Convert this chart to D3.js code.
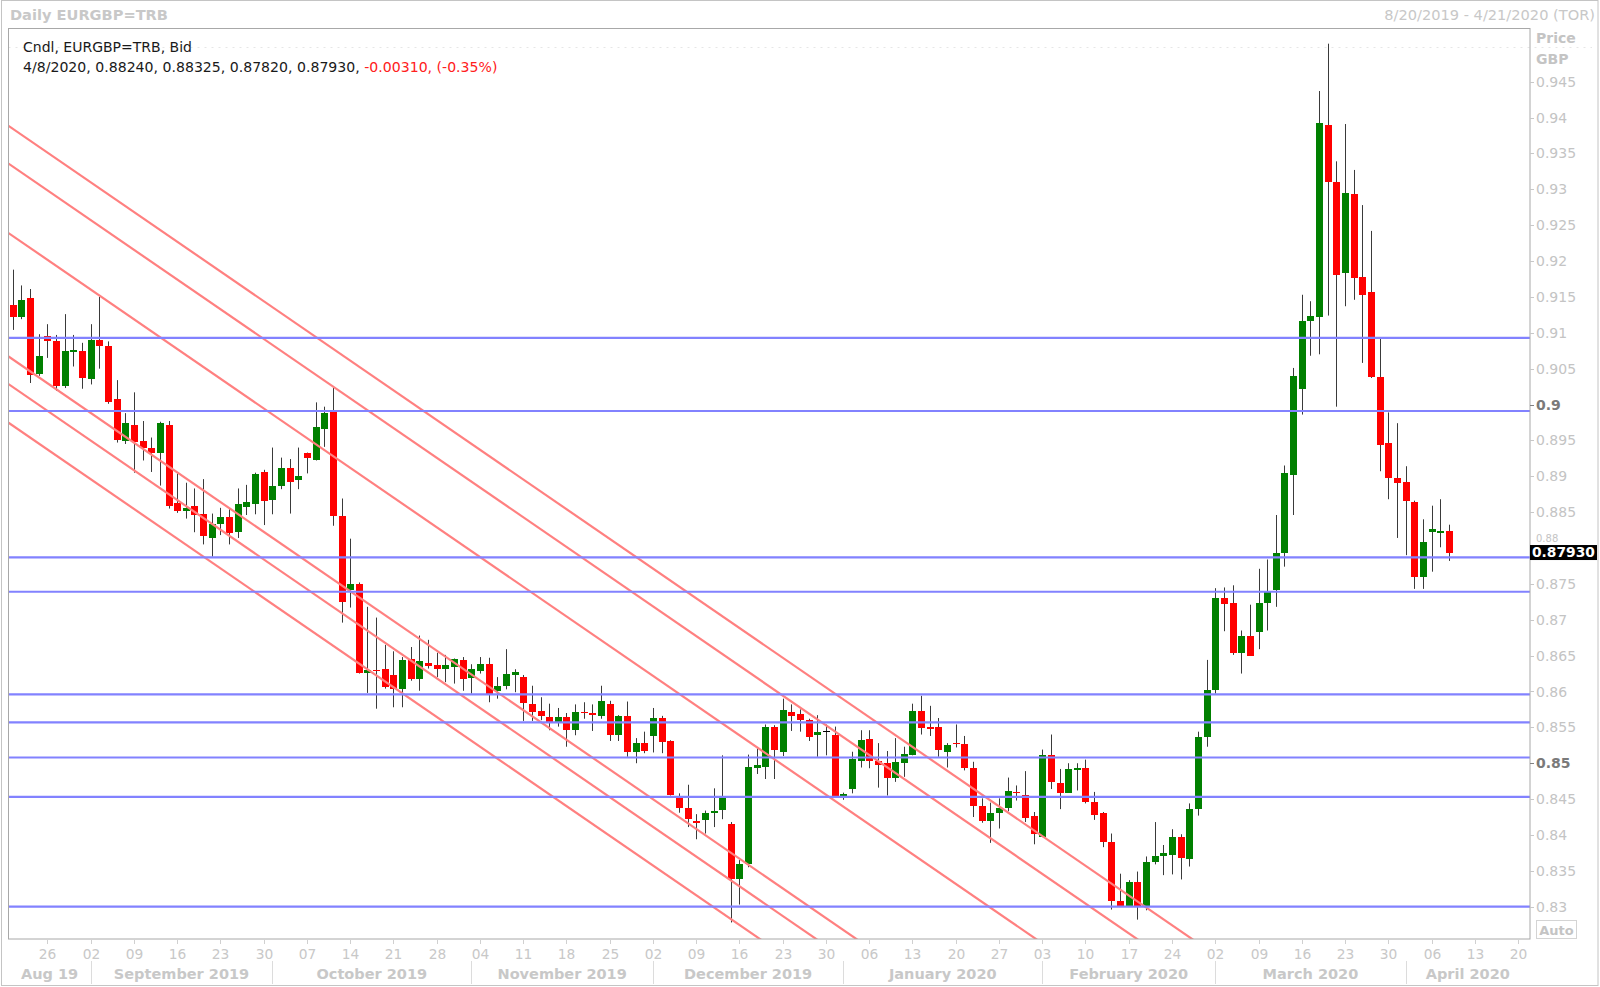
<!DOCTYPE html>
<html><head><meta charset="utf-8">
<script src="https://cdn.jsdelivr.net/npm/d3@7"></script>
<style>
body{margin:0;background:#fff;}
svg{display:block;font-family:"DejaVu Sans",Verdana,sans-serif;}
</style>
</head><body>
<svg id="c" width="1600" height="987"></svg>
<script>
// ---------------- DATA ----------------
const startDate = "2019-08-20";
const endDate = "2020-04-21";
const seriesTitle = "Cndl, EURGBP=TRB, Bid";
const lastInfo = "4/8/2020, 0.88240, 0.88325, 0.87820, 0.87930, ";
const lastChange = "-0.00310, (-0.35%)";
const lastPriceLabel = "0.87930";

const opens = [
0.9139,0.9122,0.9148,0.9042,0.9096,0.9088,0.9026,0.9073,0.9075,0.9035,
0.9090,0.9081,0.9008,0.8949,0.8971,0.8949,0.8940,0.8933,0.8971,0.8863,
0.8852,0.8858,0.8847,0.8814,0.8834,0.8843,0.8822,0.8857,0.8862,0.8906,
0.8867,0.8887,0.8912,0.8895,0.8932,0.8923,0.8966,0.8989,0.8845,0.8741,
0.8750,0.8626,0.8630,0.8631,0.8623,0.8604,0.8645,0.8617,0.8640,0.8637,
0.8632,0.8634,0.8644,0.8619,0.8628,0.8639,0.8600,0.8607,0.8623,0.8620,
0.8583,0.8573,0.8565,0.8557,0.8565,0.8547,0.8572,0.8570,0.8566,0.8583,
0.8539,0.8566,0.8515,0.8528,0.8538,0.8563,0.8531,0.8451,0.8438,0.8419,
0.8421,0.8431,0.8435,0.8415,0.8339,0.8359,0.8493,0.8495,0.8550,0.8515,
0.8572,0.8569,0.8560,0.8539,0.8545,0.8540,0.8455,0.8464,0.8503,0.8534,
0.8503,0.8500,0.8480,0.8501,0.8512,0.8573,0.8550,0.8550,0.8516,0.8528,
0.8527,0.8493,0.8440,0.8419,0.8431,0.8438,0.8460,0.8456,0.8427,0.8397,
0.8511,0.8473,0.8459,0.8491,0.8494,0.8446,0.8430,0.8390,0.8308,0.8301,
0.8334,0.8301,0.8363,0.8370,0.8372,0.8397,0.8366,0.8436,0.8537,0.8602,
0.8731,0.8724,0.8654,0.8678,0.8683,0.8723,0.8742,0.8793,0.8902,0.9021,
0.9117,0.9122,0.9389,0.9310,0.9184,0.9293,0.9178,0.9157,0.9039,0.8946,
0.8898,0.8892,0.8864,0.8760,0.8823,0.8821,0.8824];

const highs = [
0.9188,0.9166,0.9161,0.9098,0.9112,0.9097,0.9126,0.9097,0.9086,0.9112,
0.9150,0.9088,0.9034,0.8988,0.9017,0.8977,0.8954,0.8976,0.8977,0.8904,
0.8891,0.8883,0.8896,0.8848,0.8856,0.8854,0.8883,0.8888,0.8905,0.8909,
0.8940,0.8926,0.8924,0.8940,0.8933,0.9003,0.8997,0.9023,0.8869,0.8813,
0.8752,0.8718,0.8703,0.8665,0.8656,0.8648,0.8662,0.8678,0.8672,0.8654,
0.8651,0.8646,0.8648,0.8638,0.8648,0.8647,0.8620,0.8659,0.8631,0.8623,
0.8608,0.8592,0.8583,0.8577,0.8570,0.8582,0.8585,0.8582,0.8608,0.8587,
0.8567,0.8586,0.8535,0.8544,0.8577,0.8566,0.8532,0.8458,0.8470,0.8429,
0.8434,0.8465,0.8511,0.8418,0.8365,0.8512,0.8521,0.8554,0.8553,0.8590,
0.8582,0.8575,0.8562,0.8567,0.8554,0.8551,0.8459,0.8516,0.8546,0.8546,
0.8528,0.8517,0.8535,0.8523,0.8583,0.8594,0.8580,0.8563,0.8528,0.8554,
0.8538,0.8502,0.8451,0.8445,0.8451,0.8480,0.8469,0.8489,0.8432,0.8519,
0.8540,0.8492,0.8500,0.8500,0.8505,0.8460,0.8432,0.8402,0.8346,0.8337,
0.8349,0.8370,0.8418,0.8386,0.8408,0.8401,0.8444,0.8544,0.8644,0.8744,
0.8745,0.8748,0.8685,0.8721,0.8771,0.8784,0.8846,0.8915,0.9051,0.9153,
0.9144,0.9437,0.9503,0.9339,0.9391,0.9327,0.9278,0.9242,0.9092,0.8989,
0.8974,0.8914,0.8866,0.8840,0.8859,0.8868,0.88325];

const lows = [
0.9104,0.9119,0.9030,0.9040,0.9065,0.9019,0.9023,0.9053,0.9022,0.9028,
0.9050,0.9001,0.8947,0.8945,0.8905,0.8922,0.8906,0.8887,0.8855,0.8849,
0.8841,0.8822,0.8805,0.8788,0.8818,0.8805,0.8814,0.8846,0.8847,0.8832,
0.8847,0.8882,0.8848,0.8882,0.8904,0.8922,0.8941,0.8831,0.8696,0.8717,
0.8625,0.8598,0.8576,0.8604,0.8578,0.8578,0.8615,0.8601,0.8632,0.8620,
0.8613,0.8611,0.8601,0.8597,0.8625,0.8585,0.8590,0.8603,0.8599,0.8559,
0.8559,0.8560,0.8546,0.8551,0.8523,0.8539,0.8562,0.8545,0.8562,0.8531,
0.8531,0.8509,0.8500,0.8514,0.8515,0.8514,0.8455,0.8431,0.8411,0.8394,
0.8402,0.8411,0.8422,0.8278,0.8303,0.8355,0.8485,0.8478,0.8478,0.8510,
0.8545,0.8544,0.8531,0.8509,0.8511,0.8455,0.8449,0.8458,0.8494,0.8493,
0.8466,0.8455,0.8474,0.8481,0.8511,0.8540,0.8538,0.8509,0.8494,0.8522,
0.8490,0.8425,0.8417,0.8389,0.8409,0.8433,0.8448,0.8418,0.8387,0.8397,
0.8464,0.8436,0.8459,0.8462,0.8444,0.8421,0.8383,0.8296,0.8300,0.8300,
0.8282,0.8295,0.8359,0.8344,0.8345,0.8338,0.8356,0.8427,0.8523,0.8597,
0.8684,0.8651,0.8625,0.8650,0.8659,0.8685,0.8718,0.8774,0.8846,0.8986,
0.9068,0.9070,0.9124,0.8997,0.9137,0.9146,0.9058,0.9037,0.8907,0.8868,
0.8814,0.8790,0.8743,0.8743,0.8767,0.8801,0.87820];

const closes = [
0.9122,0.9146,0.9041,0.9068,0.9088,0.9026,0.9075,0.9076,0.9037,0.9090,
0.9081,0.9004,0.8950,0.8974,0.8948,0.8939,0.8933,0.8974,0.8859,0.8852,
0.8856,0.8846,0.8817,0.8834,0.8843,0.8821,0.8861,0.8864,0.8903,0.8866,
0.8886,0.8912,0.8892,0.8901,0.8926,0.8968,0.8988,0.8844,0.8725,0.8750,
0.8626,0.8630,0.8628,0.8606,0.8603,0.8644,0.8617,0.8642,0.8635,0.8631,
0.8637,0.8645,0.8617,0.8632,0.8639,0.8597,0.8608,0.8624,0.8627,0.8584,
0.8572,0.8566,0.8558,0.8565,0.8547,0.8572,0.8570,0.8567,0.8587,0.8539,
0.8566,0.8515,0.8528,0.8517,0.8563,0.8529,0.8456,0.8438,0.8422,0.8417,
0.8431,0.8434,0.8451,0.8339,0.8359,0.8495,0.8497,0.8550,0.8519,0.8574,
0.8566,0.8560,0.8537,0.8544,0.8545,0.8455,0.8457,0.8506,0.8532,0.8503,
0.8498,0.8480,0.8502,0.8513,0.8573,0.8549,0.8548,0.8518,0.8525,0.8527,
0.8493,0.8441,0.8419,0.8431,0.8438,0.8461,0.8459,0.8424,0.8402,0.8511,
0.8474,0.8459,0.8492,0.8494,0.8446,0.8428,0.8390,0.8308,0.8301,0.8334,
0.8301,0.8363,0.8371,0.8375,0.8397,0.8368,0.8436,0.8536,0.8602,0.8731,
0.8722,0.8653,0.8677,0.8650,0.8724,0.8738,0.8793,0.8904,0.9040,0.9117,
0.9124,0.9392,0.9310,0.9180,0.9295,0.9177,0.9153,0.9039,0.8943,0.8897,
0.8891,0.8866,0.8760,0.8809,0.8826,0.8824,0.87930];

// horizontal support / resistance levels (blue)
const hLevels = [0.9093, 0.8991, 0.8787, 0.8739, 0.8596, 0.8557, 0.8508, 0.8453, 0.8300];
// parallel down-trend channel lines (red): price at anchor A and anchor B
const trendAnchorA = "2019-08-20";
const trendAnchorB = "2020-03-02";
const trendPriceA = [0.93844, 0.93317, 0.92349, 0.90629, 0.90244, 0.89705];
const trendPriceB = [0.82328, 0.81801, 0.80833, 0.79113, 0.78728, 0.78189];

const yTicks = [0.83,0.835,0.84,0.845,0.85,0.855,0.86,0.865,0.87,0.875,0.88,0.885,0.89,0.895,0.9,0.905,0.91,0.915,0.92,0.925,0.93,0.935,0.94,0.945];
const yTickLabels = ["0.83","0.835","0.84","0.845","0.85","0.855","0.86","0.865","0.87","0.875","0.88","0.885","0.89","0.895","0.9","0.905","0.91","0.915","0.92","0.925","0.93","0.935","0.94","0.945"];
const boldTicks = ["0.85","0.9"];
const monthLabels = ["Aug 19","September 2019","October 2019","November 2019","December 2019","January 2020","February 2020","March 2020","April 2020"];

// ---------------- CHART ----------------
const svg = d3.select("#c");
const P = {l: 8.5, t: 28.5, r: 1530, b: 939};
const fmt = d3.timeFormat("%Y-%m-%d");
const parse = d3.timeParse("%Y-%m-%d");

const days = d3.timeDay.range(parse(startDate), d3.timeDay.offset(parse(endDate), 1))
  .filter(d => d.getDay() !== 0 && d.getDay() !== 6);
const dayKeys = days.map(fmt);

const x = d3.scaleBand().domain(dayKeys).range([8.5, 1531]).paddingInner(0.3).paddingOuter(0.15);
const xc = k => x(k) + x.bandwidth() / 2;
const y = d3.scaleLinear().domain([0.83, 0.945]).range([906.7, 81.7]);

// outer frame
svg.append("rect").attr("x", 1.5).attr("y", 0.5).attr("width", 1596.5).attr("height", 985)
  .attr("fill", "#fff").attr("stroke", "#c4c4c4");

// clip
svg.append("defs").append("clipPath").attr("id", "clip")
  .append("rect").attr("x", P.l).attr("y", P.t).attr("width", P.r - P.l).attr("height", P.b - P.t);

// faint dotted top line
svg.append("line").attr("x1", P.l).attr("x2", 1592).attr("y1", 47.5).attr("y2", 47.5)
  .attr("stroke", "#e6e6e6").attr("stroke-dasharray", "2,5");

// candles
const candles = opens.map((o, i) => ({k: dayKeys[i], o, h: highs[i], l: lows[i], c: closes[i]}));
const gC = svg.append("g").attr("clip-path", "url(#clip)");
const cg = gC.selectAll("g.cdl").data(candles).join("g").attr("class", "cdl");
cg.append("line")
  .attr("x1", d => Math.round(xc(d.k)) + 0.5).attr("x2", d => Math.round(xc(d.k)) + 0.5)
  .attr("y1", d => y(d.h)).attr("y2", d => y(d.l))
  .attr("stroke", "#3a3a3a").attr("stroke-width", 1);
cg.append("rect")
  .attr("x", d => Math.round(xc(d.k)) - 3)
  .attr("width", 7)
  .attr("y", d => Math.round(y(Math.max(d.o, d.c))))
  .attr("height", d => Math.max(1, Math.round(y(Math.min(d.o, d.c))) - Math.round(y(Math.max(d.o, d.c)))))
  .attr("fill", d => d.c > d.o ? "#008000" : (d.c < d.o ? "#ff0000" : "#000"));

// red channel lines
const gL = svg.append("g").attr("clip-path", "url(#clip)");
trendPriceA.forEach((pa, j) => {
  const X0 = xc(trendAnchorA), Y0 = y(pa);
  const X1 = xc(trendAnchorB), Y1 = y(trendPriceB[j]);
  const m = (Y1 - Y0) / (X1 - X0);
  gL.append("line")
    .attr("x1", P.l).attr("y1", Y0 + m * (P.l - X0))
    .attr("x2", P.r).attr("y2", Y0 + m * (P.r - X0))
    .attr("stroke", "#ff8080").attr("stroke-width", 2.2);
});
// blue horizontal levels
hLevels.forEach(v => {
  gL.append("line").attr("x1", P.l).attr("x2", P.r).attr("y1", y(v)).attr("y2", y(v))
    .attr("stroke", "#8282ff").attr("stroke-width", 2.2);
});

// plot frame
svg.append("rect").attr("x", P.l).attr("y", P.t).attr("width", P.r - P.l).attr("height", P.b - P.t)
  .attr("fill", "none").attr("stroke", "#a8a8a8");

// right axis
const gY = svg.append("g");
const lastY = y(closes[closes.length - 1]);
yTicks.forEach((t, i) => {
  const lab = yTickLabels[i];
  const b = boldTicks.includes(lab);
  gY.append("line").attr("x1", P.r).attr("x2", P.r + 4).attr("y1", Math.round(y(t)) + 0.5).attr("y2", Math.round(y(t)) + 0.5)
    .attr("stroke", b ? "#808080" : "#c8c8c8");
  // the label hidden behind the last-price box is only partly visible (clipped above the box)
  const tx = gY.append("text").attr("x", 1536).attr("y", y(t)).attr("dy", "0.36em")
    .attr("font-size", 14).attr("font-weight", b ? "bold" : "normal")
    .attr("fill", b ? "#7a7a7a" : "#c4c4c4").text(lab);
  if (Math.abs(y(t) - lastY) < 12) {
    tx.attr("font-size", 10).attr("y", lastY - 11.5).attr("dy", null);
  }
});
gY.append("text").attr("x", 1536).attr("y", 43).attr("font-size", 14).attr("font-weight", "bold").attr("fill", "#c4c4c4").text("Price");
gY.append("text").attr("x", 1536).attr("y", 64).attr("font-size", 14).attr("font-weight", "bold").attr("fill", "#c4c4c4").text("GBP");

// last price box
gY.append("rect").attr("x", P.r).attr("y", lastY - 8).attr("width", 67).attr("height", 15).attr("fill", "#000");
gY.append("text").attr("x", 1532).attr("y", lastY - 0.5).attr("dy", "0.36em").attr("font-size", 13.8)
  .attr("font-weight", "bold").attr("fill", "#fff").text(lastPriceLabel);

// Auto button
gY.append("rect").attr("x", 1536.5).attr("y", 920.5).attr("width", 40).attr("height", 18)
  .attr("fill", "#fff").attr("stroke", "#d4d4d4");
gY.append("text").attr("x", 1556.5).attr("y", 934.5).attr("text-anchor", "middle").attr("font-size", 13)
  .attr("font-weight", "bold").attr("fill", "#c4c4c4").text("Auto");

// bottom axis
const gX = svg.append("g");
days.forEach((d, i) => {
  if (d.getDay() === 1) {
    const cx = Math.round(xc(dayKeys[i])) + 0.5;
    gX.append("line").attr("x1", cx).attr("x2", cx).attr("y1", P.b + 1).attr("y2", P.b + 5).attr("stroke", "#d0d0d0");
    gX.append("text").attr("x", cx).attr("y", 958.5).attr("text-anchor", "middle").attr("font-size", 13.8)
      .attr("fill", "#c8c8c8").text(d3.timeFormat("%d")(d));
  }
});
// month groups (first trading day of each month)
const monthStarts = [];
days.forEach((d, i) => {
  if (i === 0 || d.getMonth() !== days[i - 1].getMonth()) monthStarts.push(i);
});
monthStarts.forEach((si, m) => {
  const left = si === 0 ? P.l : xc(dayKeys[si]);
  const right = m + 1 < monthStarts.length ? xc(dayKeys[monthStarts[m + 1]]) : P.r;
  if (si !== 0) {
    const sx = Math.round(left) + 0.5;
    gX.append("line").attr("x1", sx).attr("x2", sx).attr("y1", 961).attr("y2", 984).attr("stroke", "#dcdcdc");
  }
  gX.append("text").attr("x", (left + right) / 2).attr("y", 978.5).attr("text-anchor", "middle")
    .attr("font-size", 14.5).attr("font-weight", "bold").attr("fill", "#c8c8c8").text(monthLabels[m]);
});

// headers
svg.append("text").attr("x", 10).attr("y", 20).attr("font-size", 14.6).attr("font-weight", "bold")
  .attr("fill", "#c8c8c8").text("Daily EURGBP=TRB");
svg.append("text").attr("x", 1595).attr("y", 20).attr("text-anchor", "end").attr("font-size", 14.6)
  .attr("fill", "#c8c8c8").text("8/20/2019 - 4/21/2020 (TOR)");
svg.append("text").attr("x", 23).attr("y", 51.5).attr("font-size", 14).attr("fill", "#1a1a1a").text(seriesTitle);
const t2 = svg.append("text").attr("x", 23).attr("y", 72).attr("font-size", 14.1).attr("fill", "#1a1a1a");
t2.append("tspan").text(lastInfo);
t2.append("tspan").attr("fill", "#ff2020").text(lastChange);
</script>
</body></html>
